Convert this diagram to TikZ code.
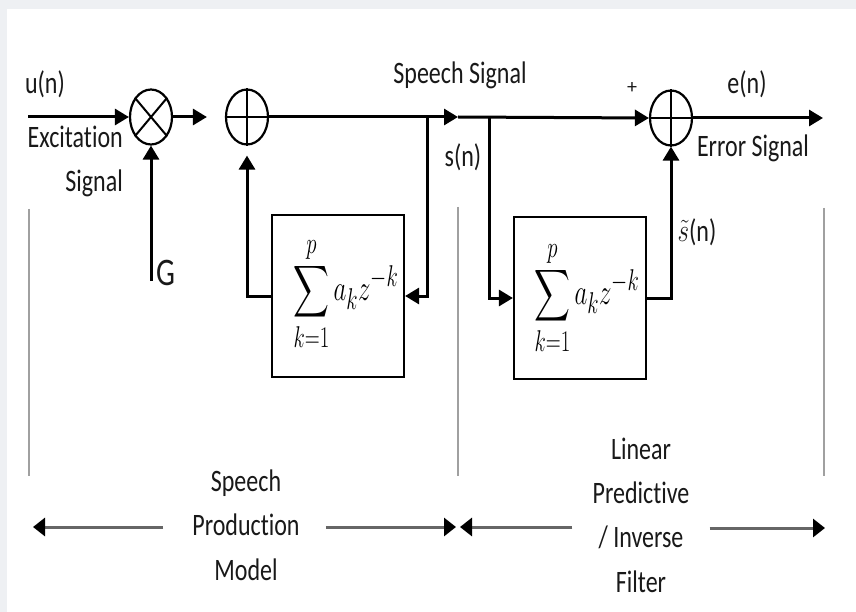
\documentclass[tikz,border=0pt]{standalone}
\usepackage{exscale}
\usepackage{fontspec}
\setmainfont{Carlito}[Ligatures=NoCommon]
\usepackage{graphicx}
\usetikzlibrary{arrows.meta, positioning, shapes.geometric}

\definecolor{pagegray}{HTML}{EEF0F3}
\definecolor{rulegray}{HTML}{A0A0A0}
\newcommand{\talltext}[1]{\scalebox{1}[1.3]{#1}}

\begin{document}
\begin{tikzpicture}[
    x=1pt, y=-1pt,
    font=\fontsize{24}{34}\selectfont,
    arr/.style={-{Triangle[length=14pt, width=16pt]}, line width=3pt},
    junction/.style={
        ellipse, draw, line width=2.2pt,
        minimum width=42pt, minimum height=55pt, inner sep=0pt
    },
    filterbox/.style={
        rectangle, draw, line width=2.2pt,
        minimum width=132pt, minimum height=162pt, inner sep=0pt
    },
    sumlbl/.style={inner sep=0pt, font=\fontsize{28}{32}\selectfont},
    lbl/.style={inner sep=0pt, text=black!90},
    divider/.style={line width=2pt, draw=rulegray},
    rangearr/.style={
        -{Triangle[length=12pt, width=18pt, color=black]},
        line width=3pt, draw=black!60
    },
]

    \fill[pagegray] (0,0) rectangle (856,612);
    \fill[white] (7,9) rectangle (856,612);
    \useasboundingbox (0,0) rectangle (856,612);

    % Speech production model
    \node[junction]  (mul)  at (151,117) {};
    \node[junction]  (add)  at (247,117) {};
    \node[filterbox] (lbox) at (338,296) {};
    \node[sumlbl]    (lsum) at ([xshift=8pt, yshift=2pt]lbox.center)
        {\scalebox{1}[1.45]{$\displaystyle\sum_{k=1}^{p} a_k z^{-k}$}};

    % Inverse filter
    \node[junction]  (err)  at (671,118) {};
    \node[filterbox] (rbox) at (580,298) {};
    \node[sumlbl]    (rsum) at ([xshift=7pt]rbox.center)
        {\scalebox{1}[1.45]{$\displaystyle\sum_{k=1}^{p} a_k z^{-k}$}};

    \draw[line width=2pt] (mul.130) -- (mul.-50) (mul.50) -- (mul.230);
    \draw[line width=2pt] (add.north) -- (add.south) (add.west) -- (add.east);
    \draw[line width=2pt] (err.north) -- (err.south) (err.west) -- (err.east);

    \coordinate (uin)  at (28,117);
    \coordinate (gin)  at (151,281);
    \coordinate (tap1) at (427,117);
    \coordinate (mid)  at (458,117);
    \coordinate (tap2) at (489,117);
    \coordinate (eout) at (823,118);

    \draw[arr] (uin) -- (mul.west);
    \draw[arr] (gin) -- (mul.south);
    \draw[arr, shorten >=18pt] (mul.east) -- (add.west);
    \draw[arr] (add.east) -- (mid);
    \draw[arr] (mid) -- (err.west);
    \draw[arr] (err.east) -- (eout);
    \draw[arr] (tap1) |- (lbox.east);
    \draw[arr, shorten >=10pt] (lbox.west) -| (add.south);
    \draw[arr] (tap2) |- (rbox.west);
    \draw[arr] (rbox.east) -| (err.south);

    % Signal labels
    \node[lbl] (un) at (45,84) {\talltext{u(n)}};
    \node[lbl, anchor=east] (exc) at (123,161)
        {\talltext{\begin{tabular}{@{}r@{}}Excitation\\Signal\end{tabular}}};
    \node[lbl, font=\fontsize{30}{34}\selectfont] (gain) at (166,273) {\talltext{G}};
    \node[lbl] (ss)   at (460,75)  {\talltext{Speech Signal}};
    \node[lbl] (sn)   at (463,157) {\talltext{s(n)}};
    \node[lbl, font=\fontsize{20}{22}\selectfont] (plus) at (632,88) {+};
    \node[lbl] (en)   at (747,84)  {\talltext{e(n)}};
    \node[lbl] (es)   at (753,148) {\talltext{Error Signal}};
    \node[lbl] (shat) at (697,232) {\talltext{$\tilde{s}$(n)}};

    % Sections
    \draw[divider] (29,209) -- (29,476);
    \draw[divider] (458,207) -- (458,476);
    \draw[divider] (824,208) -- (824,476);

    \node[lbl] (spm) at (246,527)
        {\talltext{\begin{tabular}{@{}c@{}}Speech\\Production\\Model\end{tabular}}};
    \node[lbl] (lpf) at (641,517)
        {\talltext{\begin{tabular}{@{}c@{}}Linear\\Predictive\\/ Inverse\\Filter\end{tabular}}};

    \coordinate (spmL) at (33,527);
    \coordinate (spmR) at (456,527);
    \coordinate (lpfL) at (460,527);
    \coordinate (lpfR) at (825,528);

    \draw[rangearr, shorten <=29pt] (spm.west |- spmL) -- (spmL);
    \draw[rangearr, shorten <=26pt] (spm.east |- spmR) -- (spmR);
    \draw[rangearr, shorten <=20pt] (lpf.west |- lpfL) -- (lpfL);
    \draw[rangearr, shorten <=20pt] (lpf.east |- lpfR) -- (lpfR);

\end{tikzpicture}
\end{document}
